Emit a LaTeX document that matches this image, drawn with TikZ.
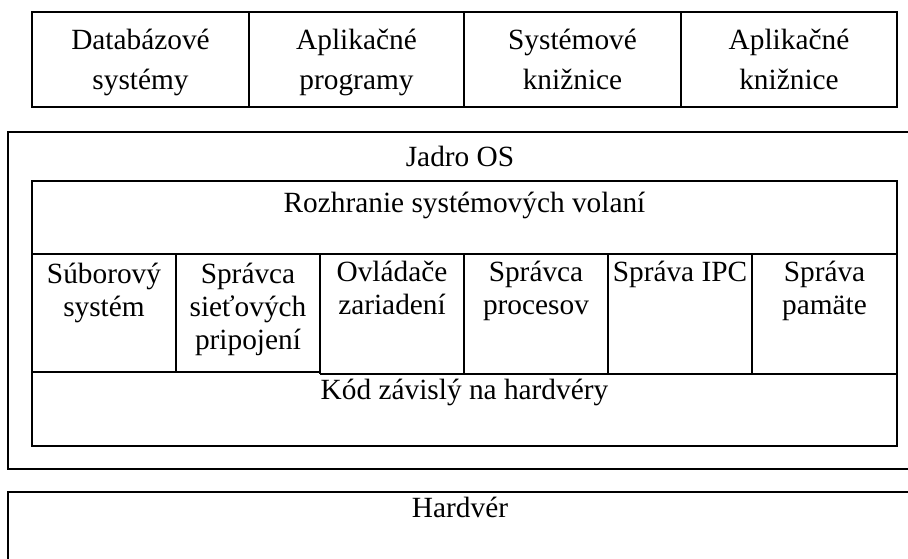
\documentclass[tikz,border=0pt]{standalone}
\usepackage{fontspec}
\setmainfont{Liberation Serif}
\begin{document}
\begin{tikzpicture}[x=0.75pt,y=-0.75pt,
  frame/.style={draw=black, line width=1.1pt},
  lbl/.style={anchor=base, inner sep=0pt, align=center, font=\fontsize{22pt}{24.75pt}\selectfont},
  toplbl/.style={lbl, font=\fontsize{22pt}{30pt}\selectfont}]
\clip (0,0) rectangle (908,559);
% top row of boxes (base anchor = baseline of last line)
\draw[frame] (32,12) rectangle (897,107);
\draw[frame] (249,12) -- (249,107);
\draw[frame] (464,12) -- (464,107);
\draw[frame] (681,12) -- (681,107);
\node[toplbl] (db)   at (140.5,90) {Databázové\\systémy};
\node[toplbl] (app)  at (356.5,90) {Aplikačné\\programy};
\node[toplbl] (syslib) at (572.5,90) {Systémové\\knižnice};
\node[toplbl] (applib) at (789,90) {Aplikačné\\knižnice};
% kernel frame
\draw[frame] (8,132) rectangle (914,469);
\node[lbl] (kernel) at (460,167) {Jadro OS};
% inner box
\draw[frame] (32,181) rectangle (897,446);
\draw[frame] (32,254) -- (897,254);
\draw[frame] (32,372) -- (320,372);
\draw[frame] (320,374) -- (897,374);
\draw[frame] (176,254) -- (176,372);
\draw[frame] (320,254) -- (320,374);
\draw[frame] (464,254) -- (464,374);
\draw[frame] (608,254) -- (608,374);
\draw[frame] (752,254) -- (752,374);
\node[lbl] (syscall) at (464.5,213) {Rozhranie systémových volaní};
\node[lbl] (fs)   at (104,317) {Súborový\\systém};
\node[lbl] (net)  at (248,350) {Správca\\sieťových\\pripojení};
\node[lbl] (drv)  at (392,315) {Ovládače\\zariadení};
\node[lbl] (proc) at (536,315) {Správca\\procesov};
\node[lbl] (ipc)  at (680,282) {Správa IPC};
\node[lbl] (mem)  at (824.5,315) {Správa\\pamäte};
\node[lbl] (hwcode) at (464.5,400) {Kód závislý na hardvéry};
% hardware frame
\draw[frame] (8,492) rectangle (914,600);
\node[lbl] (hw) at (460,518) {Hardvér};
\end{tikzpicture}
\end{document}
